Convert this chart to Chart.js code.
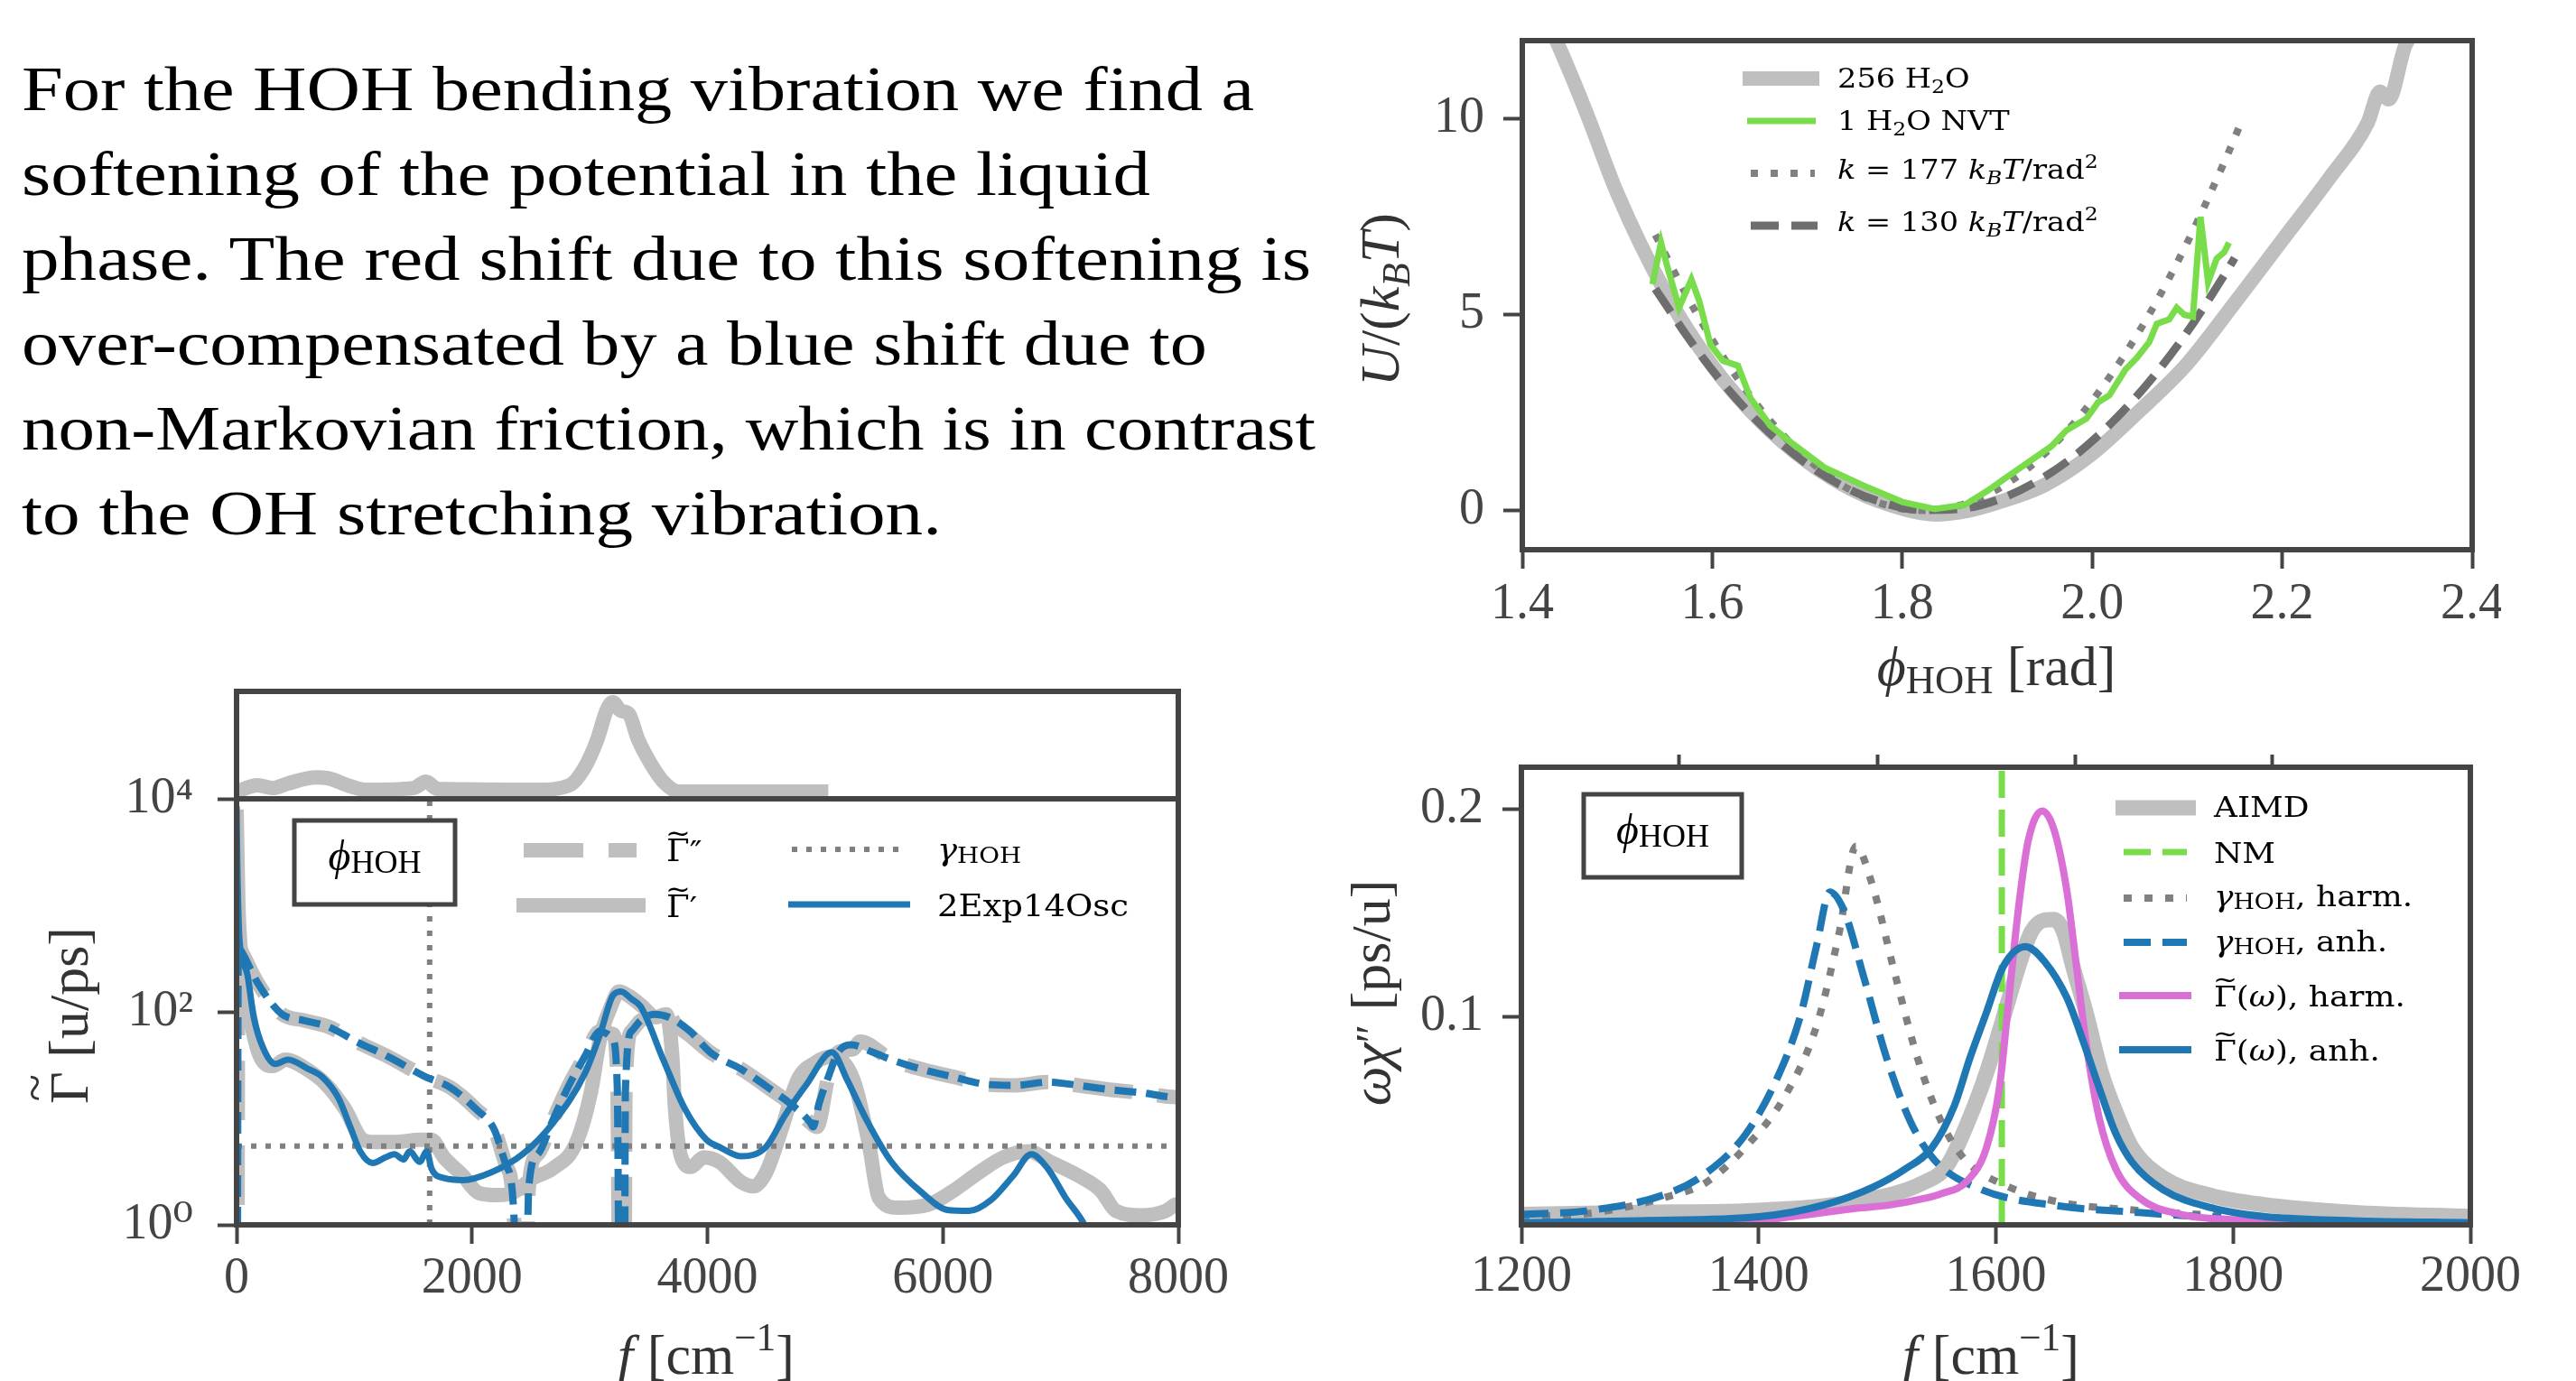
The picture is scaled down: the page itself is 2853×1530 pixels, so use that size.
<!DOCTYPE html>
<html>
<head>
<meta charset="utf-8">
<script src="https://cdn.jsdelivr.net/npm/chart.js@4.4.1/dist/chart.umd.min.js"></script>
<style>
  html, body { margin: 0; padding: 0; background: #fff; }
  body { width: 2853px; height: 1530px; position: relative; overflow: hidden; }
  canvas { position: absolute; }
  #txt { position: absolute; left: 24px; top: 0; font-family: "Liberation Serif", serif; font-size: 70px; line-height: 94px; color: #000; }
  #txt div { position: absolute; left: 0; white-space: pre; transform-origin: 0 0; }
</style>
</head>
<body>
<div id="txt"></div>
<canvas id="cPot" width="1330" height="800" style="left:1440px;top:0px"></canvas>
<canvas id="cGamma" width="1400" height="680" style="left:0px;top:850px"></canvas>
<canvas id="cInset" width="1400" height="150" style="left:0px;top:740px"></canvas>
<canvas id="cSpec" width="1400" height="730" style="left:1440px;top:800px"></canvas>
<script>
// ---------- paragraph ----------
const paraLines = [
  "For the HOH bending vibration we find a",
  "softening of the potential in the liquid",
  "phase. The red shift due to this softening is",
  "over-compensated by a blue shift due to",
  "non-Markovian friction, which is in contrast",
  "to the OH stretching vibration."
];
const paraWidths = [1365, 1250, 1428, 1313, 1433, 1019];

// ---------- potential (top right) ----------
const phiLiquid = [1.425, 1.45, 1.47, 1.50, 1.55, 1.60, 1.65, 1.70, 1.75, 1.80, 1.835, 1.87, 1.90, 1.95, 2.00, 2.05, 2.10, 2.15, 2.20, 2.25, 2.29, 2.303, 2.312, 2.33, 2.35];
const uLiquid = [12.6, 11.2, 10.0, 8.1, 5.6, 3.7, 2.3, 1.25, 0.5, 0.05, -0.1, 0.0, 0.2, 0.65, 1.45, 2.55, 3.75, 5.3, 6.9, 8.5, 9.9, 10.7, 10.5, 11.9, 12.4];
const phiGas = [1.537, 1.546, 1.553, 1.565, 1.578, 1.586, 1.598, 1.611, 1.627, 1.640, 1.661, 1.685, 1.718, 1.759, 1.80, 1.834, 1.866, 1.890, 1.907, 1.932, 1.957, 1.973, 1.994, 2.006, 2.018, 2.035, 2.047, 2.060, 2.068, 2.081, 2.089, 2.097, 2.106, 2.114, 2.122, 2.131, 2.139, 2.144];
const uGas = [5.78, 6.84, 6.2, 5.18, 5.9, 5.37, 4.24, 3.83, 3.7, 2.88, 2.17, 1.7, 1.1, 0.64, 0.22, 0.04, 0.15, 0.51, 0.8, 1.22, 1.64, 2.05, 2.35, 2.76, 2.94, 3.6, 3.9, 4.3, 4.77, 4.88, 5.18, 5.0, 4.95, 7.5, 5.83, 6.43, 6.6, 6.84];
const phiK177 = [1.54, 1.58, 1.62, 1.66, 1.70, 1.74, 1.78, 1.82, 1.86, 1.90, 1.94, 1.98, 2.02, 2.06, 2.10, 2.14, 2.155];
const uK177 = [7.04, 5.18, 3.61, 2.32, 1.32, 0.60, 0.16, 0.0, 0.13, 0.54, 1.23, 2.21, 3.47, 5.01, 6.84, 8.95, 9.81];
const phiK130 = [1.54, 1.58, 1.62, 1.66, 1.70, 1.74, 1.78, 1.82, 1.86, 1.90, 1.94, 1.98, 2.02, 2.06, 2.10, 2.14, 2.15];
const uK130 = [5.66, 4.23, 3.00, 1.99, 1.18, 0.59, 0.20, 0.015, 0.04, 0.27, 0.72, 1.37, 2.23, 3.29, 4.56, 6.05, 6.45];
const potXTicks = [1.4, 1.6, 1.8, 2.0, 2.2, 2.4];
const potYTicks = [0, 5, 10];

// ---------- friction kernel (bottom left) ----------
const fGpp = [0, 1, 15, 50, 175, 383, 573, 780, 1019, 1287, 1606, 1816, 2031, 2191, 2291, 2360, 2395, 2430, 2483, 2559, 2690, 2828, 2958, 3088, 3195, 3234, 3264, 3291, 3303, 3356, 3433, 3550, 3674, 3724, 3850, 4023, 4291, 4552, 4713, 4874, 4930, 5027, 5111, 5241, 5296, 5563, 5824, 6092, 6360, 6621, 6889, 7149, 7418, 7686, 7977, 8000];
const gGpp = [0.001, 0.001, 417, 355, 190, 95.5, 83, 72.4, 52.5, 38, 24.5, 19.5, 12.3, 7.76, 3.6, 1.0, 0.001, 0.001, 2.3, 4.6, 9.8, 20.9, 38, 66, 62, 26, 0.001, 0.001, 17.8, 66, 83, 89, 95, 78, 60, 41.7, 28.8, 18.2, 13.5, 9.1, 8.3, 24.5, 41.7, 44.7, 52.5, 35.5, 28.8, 24.5, 20.9, 20.4, 21.9, 20.4, 18.6, 17.4, 15.8, 15.8];
const fGp = [0, 15, 38, 120, 200, 307, 414, 598, 759, 920, 1073, 1180, 1364, 1555, 1655, 1762, 1923, 2054, 2214, 2345, 2506, 2690, 2881, 3011, 3088, 3180, 3249, 3333, 3450, 3560, 3650, 3700, 3725, 3778, 3860, 3969, 4100, 4291, 4391, 4498, 4628, 4766, 4927, 5057, 5241, 5372, 5456, 5617, 5877, 6092, 6306, 6513, 6728, 6912, 7149, 7341, 7471, 7686, 7893, 7977, 8000];
const gGp = [7943, 1047, 355, 83, 38, 31, 35.5, 28.8, 20.9, 12.3, 6.3, 6.0, 6.0, 6.3, 6.3, 4.3, 2.9, 2.0, 1.9, 2.0, 2.7, 3.4, 5.75, 17.8, 56, 112, 155, 141, 112, 89, 95, 40, 12.3, 4.3, 3.5, 4.3, 3.9, 2.5, 2.3, 3.1, 7.8, 22.9, 33.9, 38, 22.9, 5.75, 1.8, 1.45, 1.55, 2.1, 3.1, 4.3, 4.9, 3.9, 2.9, 2.1, 1.35, 1.23, 1.35, 1.55, 1.58];
const fFit = [0, 5, 20, 38, 92, 146, 230, 330, 437, 598, 728, 866, 966, 1050, 1157, 1264, 1341, 1418, 1471, 1555, 1617, 1655, 1762, 1923, 2161, 2429, 2690, 2958, 3088, 3195, 3264, 3356, 3433, 3625, 3808, 3992, 4100, 4291, 4498, 4659, 4843, 5057, 5188, 5349, 5563, 5824, 6038, 6222, 6406, 6598, 6751, 6889, 7042, 7203, 7400];
const gFit = [8500, 3000, 600, 355, 224, 89, 44.7, 32.4, 35.5, 29.5, 24.5, 15.5, 8.3, 4.9, 3.8, 4.3, 4.6, 4.1, 4.9, 3.9, 4.9, 3.4, 2.75, 2.63, 3.1, 4.6, 9.1, 26.3, 61.7, 141, 155, 132, 112, 35.5, 12.3, 6.3, 5.4, 4.4, 5.4, 10.7, 20.9, 41.7, 22.9, 9.8, 3.9, 2.0, 1.38, 1.35, 1.7, 2.9, 4.6, 3.4, 1.8, 1.0, 0.3];
const fFitPP = [0, 1, 15, 50, 175, 383, 573, 780, 1019, 1287, 1606, 1816, 2031, 2191, 2291, 2360, 2395, 2430, 2483, 2559, 2690, 2828, 2958, 3088, 3150, 3195, 3234, 3264, 3291, 3303, 3356, 3433, 3550, 3674, 3850, 4023, 4291, 4552, 4713, 4874, 4896, 4950, 5027, 5111, 5218, 5400, 5563, 5824, 6092, 6360, 6621, 6889, 7149, 7418, 7686, 7977, 8000];
const gFitPP = [0.001, 0.001, 400, 355, 190, 95.5, 83, 72.4, 52.5, 38, 24.5, 19.5, 12.3, 7.76, 3.6, 1.0, 0.001, 0.001, 2.3, 4.6, 9.8, 20.9, 38, 66, 62, 55, 20, 0.001, 0.001, 17.8, 66, 83, 95, 89, 66, 41.7, 28.8, 18.2, 13.5, 9.1, 8.3, 14, 24.5, 41.7, 49, 42, 35.5, 28.8, 24.5, 20.9, 20.4, 21.9, 20.4, 18.6, 17.4, 15.8, 15.8];
const gammaHOH = 5.5;
const fBend = 1640;
const fInset = [0, 176, 307, 437, 674, 782, 966, 1103, 1502, 1609, 1709, 2559, 2828, 2958, 3065, 3142, 3195, 3264, 3333, 3410, 3517, 3625, 3755, 5027];
const sInset = [0.067, 0.126, 0.10, 0.143, 0.20, 0.19, 0.118, 0.084, 0.10, 0.16, 0.092, 0.084, 0.126, 0.294, 0.555, 0.82, 0.90, 0.82, 0.79, 0.555, 0.33, 0.16, 0.067, 0.067];
const gamXTicks = [0, 2000, 4000, 6000, 8000];
const gamYTicks = [1, 100, 10000];
const gamYLabels = ["10\u2070", "10\u00b2", "10\u2074"];

// ---------- spectra (bottom right) ----------
const fAimd = [1200, 1300, 1400, 1483, 1538, 1559, 1578, 1592, 1606, 1619, 1630, 1641, 1649, 1657, 1665, 1676, 1689, 1703, 1715, 1741, 1782, 1826, 1900, 2000];
const vAimd = [0.005, 0.006, 0.007, 0.0113, 0.020, 0.0286, 0.0516, 0.073, 0.099, 0.124, 0.141, 0.1465, 0.1468, 0.141, 0.124, 0.102, 0.073, 0.0516, 0.037, 0.0226, 0.014, 0.0097, 0.006, 0.004];
const fNM = 1605;
const fGamHarm = [1200, 1257, 1323, 1356, 1389, 1422, 1449, 1468, 1482, 1495, 1515, 1534, 1554, 1574, 1607, 1653, 1719, 1772, 1790];
const vGamHarm = [0.004, 0.0055, 0.0135, 0.0205, 0.0374, 0.0617, 0.096, 0.1407, 0.182, 0.165, 0.1204, 0.080, 0.0496, 0.0313, 0.0192, 0.011, 0.007, 0.005, 0.0046];
const fGamAnh = [1200, 1257, 1323, 1356, 1389, 1415, 1435, 1449, 1460, 1472, 1488, 1508, 1528, 1548, 1587, 1653, 1719, 1772, 1790];
const vGamAnh = [0.005, 0.0069, 0.015, 0.025, 0.0435, 0.0698, 0.100, 0.1346, 0.160, 0.151, 0.1204, 0.080, 0.0496, 0.0313, 0.0171, 0.0091, 0.006, 0.004, 0.0037];
const fHarm = [1200, 1300, 1400, 1429, 1483, 1510, 1538, 1554, 1576, 1592, 1603, 1611, 1619, 1627, 1639, 1649, 1660, 1668, 1676, 1687, 1701, 1722, 1755, 1800, 1900, 2000];
const vHarm = [0.0003, 0.0006, 0.002, 0.004, 0.008, 0.0095, 0.0125, 0.015, 0.0212, 0.037, 0.066, 0.109, 0.152, 0.184, 0.199, 0.190, 0.160, 0.124, 0.0876, 0.0516, 0.027, 0.0125, 0.0052, 0.0025, 0.001, 0.0005];
const fAnh = [1200, 1300, 1402, 1456, 1497, 1524, 1546, 1565, 1578, 1592, 1606, 1625, 1641, 1660, 1674, 1687, 1701, 1715, 1741, 1782, 1826, 1900, 2000];
const vAnh = [0.001, 0.002, 0.004, 0.0097, 0.0183, 0.027, 0.037, 0.0573, 0.080, 0.102, 0.124, 0.1338, 0.1266, 0.109, 0.0876, 0.066, 0.044, 0.030, 0.0169, 0.0082, 0.004, 0.002, 0.001];
const specXTicks = [1200, 1400, 1600, 1800, 2000];
const specTopTicks = [1333, 1500, 1667, 1833];
const specYTicks = [0.1, 0.2];

// ---------- styling ----------
const FAM = '"Liberation Serif", "DejaVu Serif", serif';
const LFAM = '"DejaVu Serif", serif';
const INK = '#444';
const SILVER = '#bfbfbf';
const GREY = '#808080';
const BLUE = '#1f77b4';
const GREEN = '#78dc4b';
const ORCHID = '#da70d6';
const PHI = '\u03d5';

const txt = document.getElementById('txt');
paraLines.forEach((s, i) => {
  const d = document.createElement('div');
  d.textContent = s;
  d.style.top = (52 + i * 94) + 'px';
  txt.appendChild(d);
  const w = d.getBoundingClientRect().width;
  d.style.transform = 'scaleX(' + (paraWidths[i] / w).toFixed(4) + ')';
});

const pts = (xs, ys) => xs.map((x, i) => ({x: x, y: ys[i]}));
const P = (t, o) => Object.assign({t: t}, o || {});

// draws a run of text parts (italic / sub / sup / tilde) at a baseline point
function rich(ctx, parts, x, y, size, opt) {
  opt = opt || {};
  const fam = opt.fam || FAM;
  ctx.save();
  ctx.translate(x, y);
  if (opt.rot) ctx.rotate(opt.rot);
  if (opt.sx) ctx.scale(opt.sx, 1);
  ctx.fillStyle = opt.color || '#000';
  ctx.textBaseline = 'alphabetic';
  const items = parts.map(p => {
    const s = size * (p.s || 1);
    const font = (p.i ? 'italic ' : '') + s.toFixed(1) + 'px ' + fam;
    ctx.font = font;
    return {p: p, font: font, w: ctx.measureText(p.t).width};
  });
  const total = items.reduce((a, b) => a + b.w, 0);
  let cx = opt.align === 'center' ? -total / 2 : 0;
  items.forEach(it => {
    const dy = (it.p.dy || 0) * size;
    ctx.font = it.font;
    ctx.fillText(it.p.t, cx, dy);
    if (it.p.tilde) {
      ctx.font = (size * 0.9).toFixed(1) + 'px ' + fam;
      const tw = ctx.measureText('~').width;
      ctx.fillText('~', cx + it.w / 2 - tw / 2, dy - 0.64 * size);
    }
    cx += it.w;
  });
  ctx.restore();
}

// frame, boxes, legend rows and axis titles, all in page coordinates
function makeDeco(spec) {
  return {
    id: 'deco',
    afterDatasetsDraw(chart) {
      const ctx = chart.ctx, a = chart.chartArea;
      ctx.save();
      ctx.strokeStyle = INK;
      ctx.lineWidth = 6;
      ctx.strokeRect(a.left, a.top, a.right - a.left, a.bottom - a.top);
      (spec.boxes || []).forEach(b => {
        ctx.fillStyle = '#fff';
        ctx.fillRect(b.x1 - spec.ox, b.y1 - spec.oy, b.x2 - b.x1, b.y2 - b.y1);
        ctx.lineWidth = 5;
        ctx.strokeRect(b.x1 - spec.ox, b.y1 - spec.oy, b.x2 - b.x1, b.y2 - b.y1);
        rich(ctx, b.parts, (b.x1 + b.x2) / 2 - spec.ox, b.base - spec.oy, b.size, {align: 'center', fam: FAM});
      });
      ctx.restore();
    },
    afterDraw(chart) {
      const ctx = chart.ctx;
      (spec.legend || []).forEach(e => {
        const ds = chart.data.datasets[e.ds];
        ctx.save();
        ctx.strokeStyle = ds.borderColor;
        ctx.lineWidth = ds.borderWidth;
        ctx.setLineDash(ds.borderDash || []);
        ctx.lineCap = 'butt';
        ctx.beginPath();
        ctx.moveTo(e.x1 - spec.ox, e.y - spec.oy);
        ctx.lineTo(e.x2 - spec.ox, e.y - spec.oy);
        ctx.stroke();
        ctx.restore();
        rich(ctx, e.parts, e.tx - spec.ox, e.ty - spec.oy, spec.lsize, {fam: LFAM, sx: 1.12});
      });
      (spec.titles || []).forEach(t => {
        rich(ctx, t.parts, t.x - spec.ox, t.y - spec.oy, t.size, {align: 'center', rot: t.rot, color: '#333'});
      });
    }
  };
}

function tickFont(size) { return {family: FAM, size: size}; }
function gridOpts(len) { return {drawOnChartArea: false, tickLength: len, tickWidth: 4, tickColor: INK}; }

function xAxis(min, max, ticks, fmt, h, pad, type) {
  return {
    type: type || 'linear', min: min, max: max,
    afterBuildTicks: s => { s.ticks = ticks.map(v => ({value: v})); },
    afterFit: s => { s.height = h; s.paddingLeft = 0; s.paddingRight = 0; },
    border: {display: false},
    grid: gridOpts(21),
    ticks: {padding: pad, color: INK, font: tickFont(56), maxRotation: 0, autoSkip: false, callback: fmt}
  };
}
function yAxis(min, max, ticks, fmt, w, pad, type) {
  return {
    type: type || 'linear', min: min, max: max,
    afterBuildTicks: s => { s.ticks = ticks.map(v => ({value: v})); },
    afterFit: s => { s.width = w; s.paddingTop = 0; s.paddingBottom = 0; },
    border: {display: false},
    grid: gridOpts(21),
    ticks: {padding: pad, color: INK, font: tickFont(56), autoSkip: false, callback: fmt}
  };
}

const base = {
  responsive: false, animation: false, devicePixelRatio: 1, events: [],
  plugins: {legend: {display: false}, tooltip: {enabled: false}}
};
function line(data, color, width, dash, extra) {
  return Object.assign({data: data, borderColor: color, borderWidth: width, borderDash: dash || [],
    pointRadius: 0, fill: false, cubicInterpolationMode: 'monotone'}, extra || {});
}
// first dataset in the list is painted at the bottom, the last on top
function layered(list) {
  list.forEach((d, i) => { d.order = list.length - i; });
  return list;
}

const rotUp = -Math.PI / 2;

// ---------- chart 1: potential ----------
new Chart(document.getElementById('cPot'), {
  type: 'line',
  data: {datasets: layered([
    line(pts(phiLiquid, uLiquid), SILVER, 16),
    line(pts(phiK177, uK177), GREY, 8, [8, 14]),
    line(pts(phiK130, uK130), '#6e6e6e', 9, [31, 14]),
    line(pts(phiGas, uGas), GREEN, 7, [], {cubicInterpolationMode: 'default', tension: 0})
  ])},
  options: Object.assign({}, base, {
    layout: {padding: {left: 0, top: 45, right: 32, bottom: 0}},
    scales: {
      x: xAxis(1.4, 2.4, potXTicks, v => v.toFixed(1), 191, 7),
      y: yAxis(-1, 12, potYTicks, v => String(v), 246, 21)
    }
  }),
  plugins: [makeDeco({
    ox: 1440, oy: 0, lsize: 30,
    legend: [
      {ds: 0, x1: 1930, x2: 2015, y: 87, tx: 2035, ty: 97, parts: [P('256 H'), P('2', {s: 0.7, dy: 0.2}), P('O')]},
      {ds: 3, x1: 1935, x2: 2011, y: 134, tx: 2035, ty: 144, parts: [P('1 H'), P('2', {s: 0.7, dy: 0.2}), P('O NVT')]},
      {ds: 1, x1: 1939, x2: 2010, y: 192, tx: 2035, ty: 198, parts: [P('k', {i: 1}), P(' = 177 '), P('k', {i: 1}), P('B', {i: 1, s: 0.7, dy: 0.2}), P('T', {i: 1}), P('/rad'), P('2', {s: 0.7, dy: -0.4})]},
      {ds: 2, x1: 1939, x2: 2013, y: 250, tx: 2035, ty: 256, parts: [P('k', {i: 1}), P(' = 130 '), P('k', {i: 1}), P('B', {i: 1, s: 0.7, dy: 0.2}), P('T', {i: 1}), P('/rad'), P('2', {s: 0.7, dy: -0.4})]}
    ],
    titles: [
      {x: 1549, y: 332, size: 62, rot: rotUp, parts: [P('U', {i: 1}), P('/('), P('k', {i: 1}), P('B', {i: 1, s: 0.7, dy: 0.2}), P('T', {i: 1}), P(')')]},
      {x: 2211, y: 759, size: 62, parts: [P(PHI, {i: 1}), P('HOH', {s: 0.72, dy: 0.14}), P(' [rad]')]}
    ]
  })]
});

// ---------- chart 2: friction kernel, main log panel ----------
new Chart(document.getElementById('cGamma'), {
  type: 'line',
  data: {datasets: layered([
    line(pts(fGpp, gGpp), SILVER, 16, [66, 28]),
    line(pts(fGp, gGp), SILVER, 16),
    line([{x: 0, y: gammaHOH}, {x: 8000, y: gammaHOH}], GREY, 6, [6, 10], {cubicInterpolationMode: 'default'}),
    line([{x: fBend, y: 1}, {x: fBend, y: 10000}], GREY, 6, [6, 10], {cubicInterpolationMode: 'default'}),
    line(pts(fFit, gFit), BLUE, 7),
    line(pts(fFitPP, gFitPP), BLUE, 8, [24, 11])
  ])},
  options: Object.assign({}, base, {
    layout: {padding: {left: 0, top: 35, right: 95, bottom: 0}},
    scales: {
      x: xAxis(0, 8000, gamXTicks, v => String(v), 173, 6),
      y: yAxis(1, 10000, gamYTicks, (v, i) => gamYLabels[i], 262, 27, 'logarithmic')
    }
  }),
  plugins: [makeDeco({
    ox: 0, oy: 850, lsize: 33,
    boxes: [{x1: 326, y1: 909, x2: 504, y2: 1002, base: 964, size: 48, parts: [P(PHI, {i: 1}), P('HOH', {s: 0.75, dy: 0.06})]}],
    legend: [
      {ds: 0, x1: 580, x2: 705, y: 942, tx: 738, ty: 954, parts: [P('\u0393', {tilde: 1}), P('\u2033', {dy: 0.05})]},
      {ds: 1, x1: 572, x2: 715, y: 1003, tx: 738, ty: 1016, parts: [P('\u0393', {tilde: 1}), P('\u2032', {dy: 0.05})]},
      {ds: 2, x1: 877, x2: 996, y: 941, tx: 1038, ty: 953, parts: [P('\u03b3', {i: 1}), P('HOH', {s: 0.75, dy: 0.08})]},
      {ds: 4, x1: 873, x2: 1008, y: 1002, tx: 1038, ty: 1015, parts: [P('2Exp14Osc')]}
    ],
    titles: [
      {x: 97, y: 1125, size: 62, rot: rotUp, parts: [P('\u0393', {tilde: 1}), P(' [u/ps]')]},
      {x: 782, y: 1522, size: 62, parts: [P('f', {i: 1}), P(' [cm'), P('\u22121', {s: 0.7, dy: -0.42}), P(']')]}
    ]
  })]
});

// ---------- chart 2: upper panel ----------
new Chart(document.getElementById('cInset'), {
  type: 'line',
  data: {datasets: [line(pts(fInset, sInset), SILVER, 16)]},
  options: Object.assign({}, base, {
    layout: {padding: {left: 262, top: 26, right: 95, bottom: 5}},
    scales: {
      x: {type: 'linear', min: 0, max: 8000, display: false},
      y: {type: 'linear', min: 0, max: 1, display: false}
    }
  }),
  plugins: [makeDeco({ox: 0, oy: 740})]
});

// ---------- chart 3: spectra ----------
new Chart(document.getElementById('cSpec'), {
  type: 'line',
  data: {datasets: layered([
    line(pts(fAimd, vAimd), SILVER, 17),
    line([{x: fNM, y: 0}, {x: fNM, y: 0.22}], GREEN, 7, [30, 13], {cubicInterpolationMode: 'default'}),
    line(pts(fGamHarm, vGamHarm), GREY, 8, [9, 14]),
    line(pts(fGamAnh, vGamAnh), BLUE, 8, [30, 13]),
    line(pts(fHarm, vHarm), ORCHID, 8),
    line(pts(fAnh, vAnh), BLUE, 8)
  ])},
  options: Object.assign({}, base, {
    layout: {padding: {left: 0, top: 50, right: 104, bottom: 0}},
    scales: {
      x: xAxis(1200, 2000, specXTicks, v => String(v), 173, 4),
      x2: {
        type: 'linear', position: 'top', min: 1200, max: 2000,
        afterBuildTicks: s => { s.ticks = specTopTicks.map(v => ({value: v})); },
        afterFit: s => { s.height = 0; s.paddingLeft = 0; s.paddingRight = 0; },
        border: {display: false},
        grid: gridOpts(14),
        ticks: {display: false}
      },
      y: yAxis(0, 0.22, specYTicks, v => v.toFixed(1), 245, 21)
    }
  }),
  plugins: [makeDeco({
    ox: 1440, oy: 800, lsize: 32,
    boxes: [{x1: 1754, y1: 880, x2: 1929, y2: 972, base: 935, size: 48, parts: [P(PHI, {i: 1}), P('HOH', {s: 0.75, dy: 0.06})]}],
    legend: [
      {ds: 0, x1: 2343, x2: 2432, y: 895, tx: 2452, ty: 905, parts: [P('AIMD')]},
      {ds: 1, x1: 2352, x2: 2422, y: 944, tx: 2452, ty: 956, parts: [P('NM')]},
      {ds: 2, x1: 2352, x2: 2422, y: 995, tx: 2452, ty: 1004, parts: [P('\u03b3', {i: 1}), P('HOH', {s: 0.75, dy: 0.1}), P(', harm.')]},
      {ds: 3, x1: 2352, x2: 2422, y: 1044, tx: 2452, ty: 1054, parts: [P('\u03b3', {i: 1}), P('HOH', {s: 0.75, dy: 0.1}), P(', anh.')]},
      {ds: 4, x1: 2347, x2: 2427, y: 1103, tx: 2452, ty: 1115, parts: [P('\u0393', {tilde: 1}), P('('), P('\u03c9', {i: 1}), P('), harm.')]},
      {ds: 5, x1: 2347, x2: 2427, y: 1163, tx: 2452, ty: 1175, parts: [P('\u0393', {tilde: 1}), P('('), P('\u03c9', {i: 1}), P('), anh.')]}
    ],
    titles: [
      {x: 1539, y: 1100, size: 62, rot: rotUp, parts: [P('\u03c9\u03c7', {i: 1}), P('\u2033', {s: 0.8, dy: -0.05}), P(' [ps/u]')]},
      {x: 2205, y: 1522, size: 62, parts: [P('f', {i: 1}), P(' [cm'), P('\u22121', {s: 0.7, dy: -0.42}), P(']')]}
    ]
  })]
});
</script>
</body>
</html>
